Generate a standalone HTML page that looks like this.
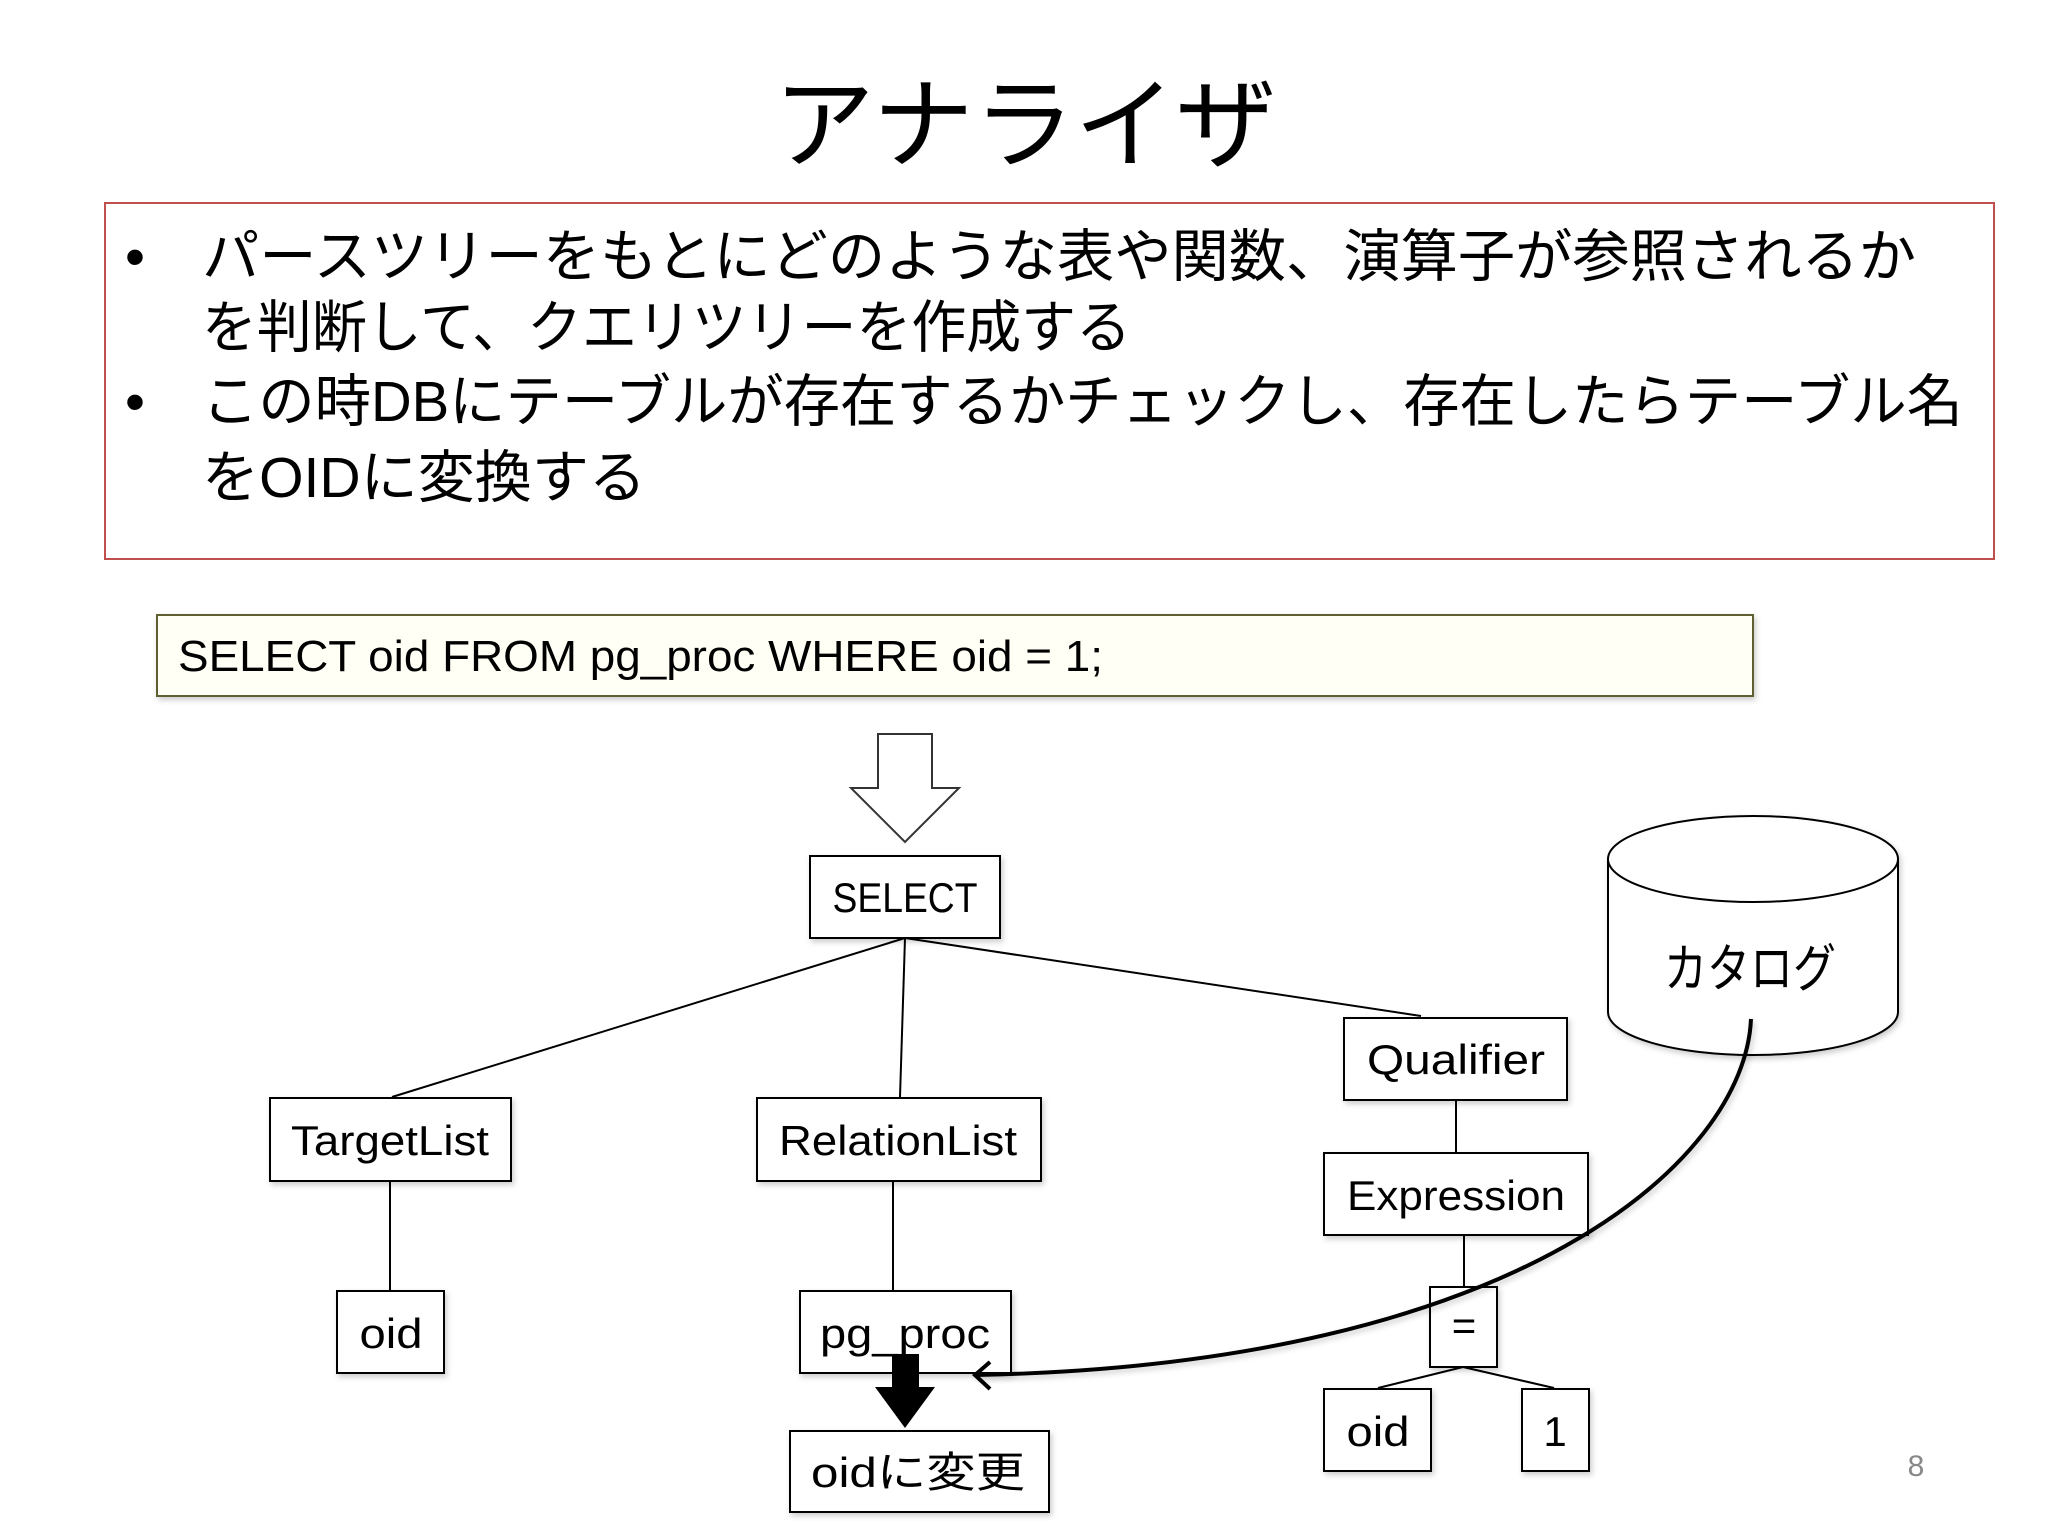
<!DOCTYPE html>
<html><head><meta charset="utf-8"><style>
html,body{margin:0;padding:0;background:#fff;width:2048px;height:1536px;overflow:hidden}
svg text{font-family:"Liberation Sans","Noto Sans CJK JP",sans-serif;fill:#000}
</style></head><body>
<svg width="2048" height="1536" viewBox="0 0 2048 1536" xmlns="http://www.w3.org/2000/svg">
<defs>
<filter id="sh" x="-10%" y="-10%" width="130%" height="130%"><feDropShadow dx="2" dy="3" stdDeviation="3" flood-color="#000" flood-opacity="0.2"/></filter>
</defs>
<text x="1025" y="160" font-size="100" text-anchor="middle" textLength="503" lengthAdjust="spacingAndGlyphs">アナライザ</text>
<rect x="105" y="203" width="1889" height="356" fill="#fff" stroke="#c0504d" stroke-width="2"/>
<g font-size="57">
<text x="125" y="276">•</text>
<text x="202" y="276" textLength="1714" lengthAdjust="spacingAndGlyphs">パースツリーをもとにどのような表や関数、演算子が参照されるか</text>
<text x="202" y="347" textLength="929" lengthAdjust="spacingAndGlyphs">を判断して、クエリツリーを作成する</text>
<text x="125" y="421">•</text>
<text x="202" y="421" textLength="1761" lengthAdjust="spacingAndGlyphs">この時DBにテーブルが存在するかチェックし、存在したらテーブル名</text>
<text x="202" y="497" textLength="444" lengthAdjust="spacingAndGlyphs">をOIDに変換する</text>
</g>
<rect x="157" y="615" width="1596" height="81" fill="#fffff6" stroke="#5f5f30" stroke-width="2" filter="url(#sh)"/>
<text x="178" y="671" font-size="44" textLength="925" lengthAdjust="spacingAndGlyphs">SELECT  oid  FROM  pg_proc  WHERE oid = 1;</text>
<path d="M878 734 H932 V788 H959 L905 842 L851 788 H878 Z" fill="#fff" stroke="#333" stroke-width="2"/>
<g stroke="#000" stroke-width="2" fill="none">
<line x1="905" y1="938" x2="392" y2="1097"/>
<line x1="905" y1="938" x2="900" y2="1097"/>
<line x1="905" y1="938" x2="1421" y2="1016"/>
<line x1="390" y1="1181" x2="390" y2="1290"/>
<line x1="893" y1="1181" x2="893" y2="1290"/>
<line x1="1456" y1="1100" x2="1456" y2="1153"/>
<line x1="1464" y1="1235" x2="1464" y2="1286"/>
<line x1="1463" y1="1367" x2="1378" y2="1388"/>
<line x1="1463" y1="1367" x2="1554" y2="1388"/>
</g>
<g fill="#fff" stroke="#000" stroke-width="2" filter="url(#sh)">
<rect x="810" y="856" width="190" height="82"/>
<rect x="270" y="1098" width="241" height="83"/>
<rect x="757" y="1098" width="284" height="83"/>
<rect x="1344" y="1018" width="223" height="82"/>
<rect x="1324" y="1153" width="264" height="82"/>
<rect x="1430" y="1287" width="67" height="80"/>
<rect x="337" y="1291" width="107" height="82"/>
<rect x="800" y="1291" width="211" height="82"/>
<rect x="790" y="1431" width="259" height="81"/>
<rect x="1324" y="1389" width="107" height="82"/>
<rect x="1522" y="1389" width="67" height="82"/>
</g>
<g font-size="42" text-anchor="middle">
<text x="905" y="912" textLength="145" lengthAdjust="spacingAndGlyphs">SELECT</text>
<text x="390" y="1155" textLength="198" lengthAdjust="spacingAndGlyphs">TargetList</text>
<text x="898" y="1155" textLength="238" lengthAdjust="spacingAndGlyphs">RelationList</text>
<text x="1456" y="1074" textLength="178" lengthAdjust="spacingAndGlyphs">Qualifier</text>
<text x="1456" y="1210" textLength="218" lengthAdjust="spacingAndGlyphs">Expression</text>
<text x="1464" y="1340">=</text>
<text x="391" y="1348" textLength="63" lengthAdjust="spacingAndGlyphs">oid</text>
<text x="905" y="1348" textLength="170" lengthAdjust="spacingAndGlyphs">pg_proc</text>
<text x="918" y="1487" textLength="214" lengthAdjust="spacingAndGlyphs">oidに変更</text>
<text x="1378" y="1446" textLength="63" lengthAdjust="spacingAndGlyphs">oid</text>
<text x="1555" y="1446">1</text>
</g>
<g filter="url(#sh)">
<path d="M1608 859 V1012 A145 43 0 0 0 1898 1012 V859" fill="#fff" stroke="#000" stroke-width="2"/>
<ellipse cx="1753" cy="859" rx="145" ry="43" fill="#fff" stroke="#000" stroke-width="2"/>
</g>
<text x="1750" y="987" font-size="52" text-anchor="middle" textLength="172" lengthAdjust="spacingAndGlyphs">カタログ</text>
<path d="M1751 1019 C1745 1160 1520 1365 975 1375" fill="none" stroke="#000" stroke-width="4" filter="url(#sh)"/>
<path d="M990 1362 L975 1375 L990 1389" fill="none" stroke="#000" stroke-width="4"/>
<path d="M892 1354 H919 V1387 H935 L905 1428 L875 1387 H892 Z" fill="#000"/>
<text x="1916" y="1476" font-size="30" fill="#888" text-anchor="middle" style="fill:#888">8</text>
</svg>
</body></html>
